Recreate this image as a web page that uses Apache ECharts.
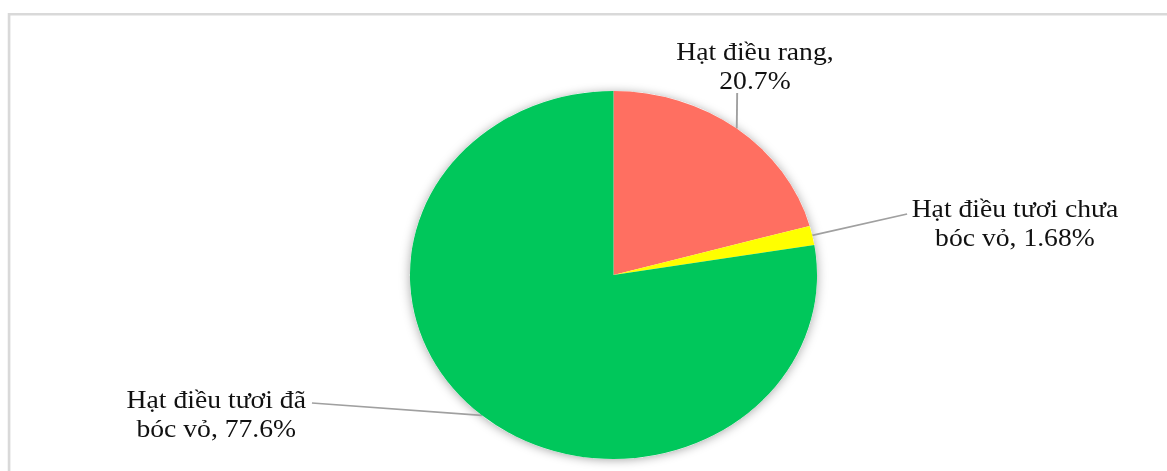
<!DOCTYPE html>
<html>
<head>
<meta charset="utf-8">
<script src="https://cdn.jsdelivr.net/npm/echarts@6/dist/echarts.min.js"></script>
<style>
  html, body { margin: 0; padding: 0; background: #ffffff; overflow: hidden; }
  #chart {
    width: 1055px;
    height: 471px;
    transform: scaleX(1.1062);
    transform-origin: 0 0;
  }
</style>
</head>
<body>
<div id="chart"></div>
<script>
// Cashew export structure by product type (%)
const categories = ['Hạt điều rang', 'Hạt điều tươi chưa\nbóc vỏ', 'Hạt điều tươi đã\nbóc vỏ'];
const shares = [20.7, 1.68, 77.6];
const sliceColors = ['#ff6f61', '#ffff00', '#00c75b'];

// Label anchor (centre of the text block) and leader-line end for each slice
const labelSpots = [
  { x: 682.5, y: 66, lx: 666.4, ly: 93 },
  { x: 917.5, y: 223, lx: 820, ly: 214 },
  { x: 195.5, y: 414, lx: 282, ly: 403 }
];

const chart = echarts.init(document.getElementById('chart'), null, { renderer: 'svg' });

const pieCenter = [554.6, 275];
const pieRadius = 184;

chart.setOption({
  animation: false,
  backgroundColor: '#ffffff',
  graphic: [{
    type: 'rect',
    shape: { x: 8.2, y: 14.2, width: 1200, height: 600 },
    style: { fill: 'none', stroke: '#d9d9d9', lineWidth: 2.4 },
    silent: true,
    z: 0
  }],
  series: [
    {
      // soft drop shadow under the whole pie
      type: 'pie',
      silent: true,
      center: pieCenter,
      radius: pieRadius,
      z: 1,
      label: { show: false },
      labelLine: { show: false },
      itemStyle: {
        color: '#ffffff',
        shadowBlur: 10,
        shadowColor: 'rgba(0,0,0,0.35)',
        shadowOffsetY: 1
      },
      data: [{ value: 1 }]
    },
    {
      type: 'pie',
      center: pieCenter,
      radius: pieRadius,
      startAngle: 90,
      clockwise: true,
      z: 2,
      avoidLabelOverlap: false,
      data: categories.map((name, i) => ({
        name: name,
        value: shares[i],
        itemStyle: { color: sliceColors[i] }
      })),
      itemStyle: { borderWidth: 0 },
      label: {
        show: true,
        position: 'outside',
        fontFamily: 'Liberation Serif, Times New Roman, serif',
        fontSize: 25,
        lineHeight: 29,
        color: '#111111',
        align: 'center',
        verticalAlign: 'middle',
        formatter: (p) => p.name.indexOf('\n') >= 0
          ? p.name + ', ' + String(p.value) + '%'
          : p.name + ',\n' + String(p.value) + '%'
      },
      labelLine: {
        show: true,
        lineStyle: { color: '#a0a0a0', width: 1.7 }
      },
      labelLayout: (params) => {
        const s = labelSpots[params.dataIndex];
        const start = params.labelLinePoints ? params.labelLinePoints[0] : [s.lx, s.ly];
        return {
          x: s.x,
          y: s.y,
          align: 'center',
          verticalAlign: 'middle',
          labelLinePoints: [start, [s.lx, s.ly], [s.lx, s.ly]]
        };
      }
    }
  ]
});
</script>
</body>
</html>
